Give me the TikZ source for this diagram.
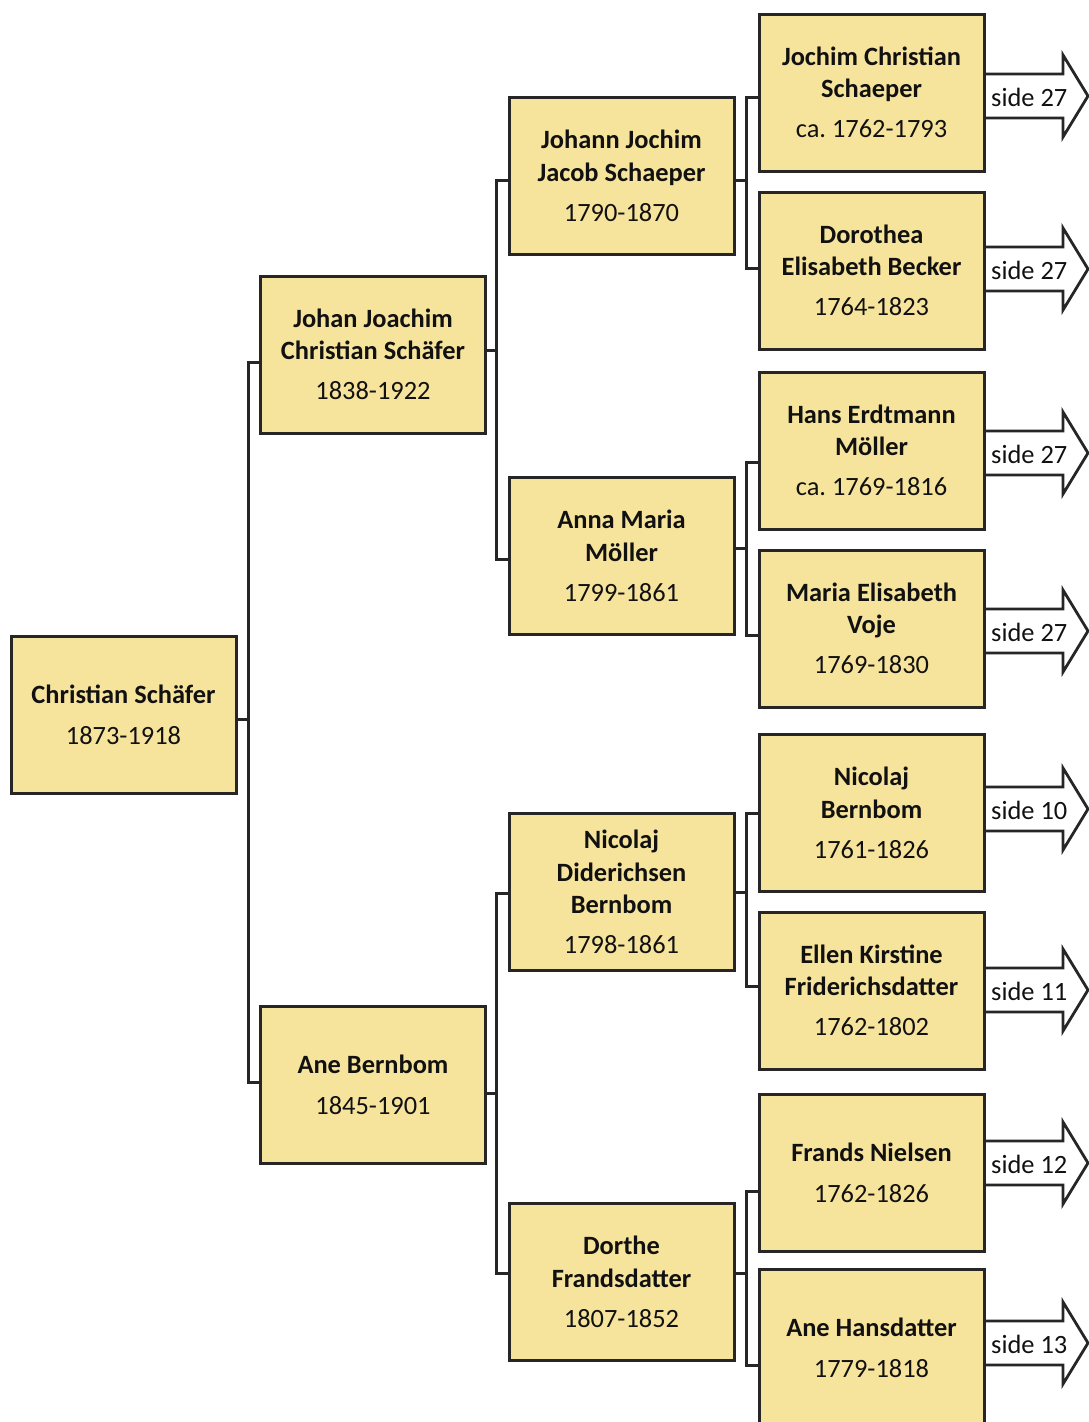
\documentclass[tikz,border=0pt]{standalone}
\usepackage{fontspec}
\setmainfont{Carlito}
\usetikzlibrary{calc}
\frenchspacing
\definecolor{boxfill}{HTML}{F7E49C}
\definecolor{boxline}{HTML}{262626}
\definecolor{txt}{HTML}{111111}
\tikzset{
  person/.style={draw=boxline, line width=3pt, fill=boxfill, minimum width=225pt, minimum height=157pt,
    inner sep=0pt, align=center, text=txt, font=\fontsize{26.4}{32.5}\selectfont},
  conn/.style={draw=boxline, line width=3pt},
  sidearr/.style={draw=boxline, line width=2.8pt, fill=white, line join=miter},
  sidetext/.style={anchor=west, inner sep=0pt, text=txt, font=\fontsize{26.4}{32}\selectfont},
}
\begin{document}
\begin{tikzpicture}[x=1pt,y=-1pt]
\useasboundingbox (0,0) rectangle (1089,1422);
\clip (0,0) rectangle (1089,1422);
\fill[white] (0,0) rectangle (1089,1422);

% side arrows (drawn first so the boxes cover their tails)
\foreach \nm/\yy/\tx in {a1/96/side 27, a2/269/side 27, a3/453/side 27, a4/631/side 27,
                         a5/809/side 10, a6/990/side 11, a7/1163/side 12, a8/1343/side 13}{
  \draw[sidearr] (980,\yy-22) -- (1063,\yy-22) -- (1063,\yy-41) -- (1088,\yy)
        -- (1063,\yy+41) -- (1063,\yy+22) -- (980,\yy+22);
  \node[sidetext] (\nm) at (991,\yy+1) {\tx};
}

% generation 1
\node[person] (cs) at (123.5,714.5) {\textbf{Christian Schäfer}\\[8.5pt]1873-1918};
% generation 2
\node[person] (jj) at (373,354.5) {\textbf{Johan Joachim}\\\textbf{Christian Schäfer}\\[7.5pt]1838-1922};
\node[person] (ab) at (373,1084.5) {\textbf{Ane Bernbom}\\[8.5pt]1845-1901};
% generation 3
\node[person] (jjs) at (621.5,176) {\textbf{Johann Jochim}\\\textbf{Jacob Schaeper}\\[7.5pt]1790-1870};
\node[person] (am) at (621.5,556) {\textbf{Anna Maria}\\\textbf{Möller}\\[7.5pt]1799-1861};
\node[person] (nd) at (621.5,892) {\textbf{Nicolaj}\\\textbf{Diderichsen}\\\textbf{Bernbom}\\[7.5pt]1798-1861};
\node[person] (df) at (621.5,1282) {\textbf{Dorthe}\\\textbf{Frandsdatter}\\[7.5pt]1807-1852};
% generation 4
\node[person] (jc) at (871.5,92.5) {\textbf{Jochim Christian}\\\textbf{Schaeper}\\[7.5pt]ca. 1762-1793};
\node[person] (db) at (871.5,270.5) {\textbf{Dorothea}\\\textbf{Elisabeth Becker}\\[7.5pt]1764-1823};
\node[person] (he) at (871.5,450.5) {\textbf{Hans Erdtmann}\\\textbf{Möller}\\[7.5pt]ca. 1769-1816};
\node[person] (me) at (871.5,628.5) {\textbf{Maria Elisabeth}\\\textbf{Voje}\\[7.5pt]1769-1830};
\node[person] (nb) at (871.5,813) {\textbf{Nicolaj}\\\textbf{Bernbom}\\[7.5pt]1761-1826};
\node[person] (ek) at (871.5,990.5) {\textbf{Ellen Kirstine}\\\textbf{Friderichsdatter}\\[7.5pt]1762-1802};
\node[person] (fn) at (871.5,1173) {\textbf{Frands Nielsen}\\[8.5pt]1762-1826};
\node[person] (ah) at (871.5,1347.5) {\textbf{Ane Hansdatter}\\[8.5pt]1779-1818};

% junctions of the connectors
\coordinate (j1) at (248,719);
\coordinate (j2) at (496,350);
\coordinate (j3) at (496,1093);
\coordinate (j4) at (746,180);
\coordinate (j5) at (746,548);
\coordinate (j6) at (746,892);
\coordinate (j7) at (746,1273);

% connectors
\draw[conn] ($(cs.east)+(0,4.5)$) -- (j1);
\draw[conn] (j1) |- ($(jj.west)+(0,7.5)$);
\draw[conn] (j1) |- ($(ab.west)+(0,-2.5)$);

\draw[conn] ($(jj.east)+(0,-4.5)$) -- (j2);
\draw[conn] (j2) |- ($(jjs.west)+(0,4)$);
\draw[conn] (j2) |- ($(am.west)+(0,3)$);

\draw[conn] ($(ab.east)+(0,8.5)$) -- (j3);
\draw[conn] (j3) |- ($(nd.west)+(0,1)$);
\draw[conn] (j3) |- ($(df.west)+(0,-9)$);

\draw[conn] ($(jjs.east)+(0,4)$) -- (j4);
\draw[conn] (j4) |- ($(jc.west)+(0,4.5)$);
\draw[conn] (j4) |- ($(db.west)+(0,-2.5)$);

\draw[conn] ($(am.east)+(0,-8)$) -- (j5);
\draw[conn] (j5) |- ($(he.west)+(0,11.5)$);
\draw[conn] (j5) |- ($(me.west)+(0,6.5)$);

\draw[conn] (nd.east) -- (j6);
\draw[conn] (j6) |- (nb.west);
\draw[conn] (j6) |- ($(ek.west)+(0,-4.5)$);

\draw[conn] ($(df.east)+(0,-9)$) -- (j7);
\draw[conn] (j7) |- ($(fn.west)+(0,18)$);
\draw[conn] (j7) |- ($(ah.west)+(0,17.5)$);
\end{tikzpicture}
\end{document}
